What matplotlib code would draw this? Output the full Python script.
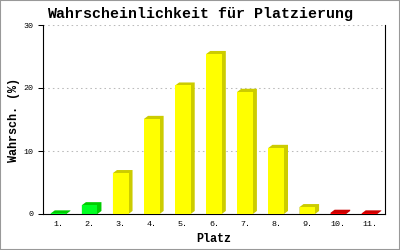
import matplotlib
matplotlib.use('Agg')
import matplotlib.pyplot as plt
from matplotlib.patches import Polygon, Rectangle

plaetze = ['1.', '2.', '3.', '4.', '5.', '6.', '7.', '8.', '9.', '10.', '11.']
wahrsch = [0.1, 1.4, 6.5, 15.1, 20.4, 25.4, 19.4, 10.5, 1.1, 0.2, 0.1]
farben_vorne = ['#00ff22', '#00ff22', '#ffff00', '#ffff00', '#ffff00', '#ffff00',
                '#ffff00', '#ffff00', '#ffff00', '#ff0000', '#ff0000']
farben_seite = ['#00cc00', '#00cc00', '#cccc00', '#cccc00', '#cccc00', '#cccc00',
                '#cccc00', '#cccc00', '#cccc00', '#cc0000', '#cc0000']
y_ticks = [0, 10, 20, 30]

fig = plt.figure(figsize=(4, 2.5), dpi=100)
ax = fig.add_axes([0.1075, 0.144, 0.855, 0.756])

breite = 0.5
tiefe_x = 0.13   # 3D-Versatz in Datenkoordinaten
tiefe_y = 0.48

for i, (w, fv, fs) in enumerate(zip(wahrsch, farben_vorne, farben_seite)):
    x = i + 1
    x0, x1 = x - breite / 2, x + breite / 2
    # Seite + Deckel als ein Sechseck, danach die Vorderseite drauf
    koerper = Polygon([(x0, 0), (x0, w), (x0 + tiefe_x, w + tiefe_y),
                       (x1 + tiefe_x, w + tiefe_y), (x1 + tiefe_x, tiefe_y), (x1, 0)],
                      closed=True, facecolor=fs, edgecolor='none', zorder=3)
    ax.add_patch(koerper)
    ax.add_patch(Rectangle((x0, 0), breite, w, facecolor=fv, edgecolor='none', zorder=4))

ax.set_xlim(0.5, 11.5)
ax.set_ylim(0, 30)
ax.set_xticks(range(1, 12))
ax.set_xticklabels(plaetze, family='Liberation Mono', fontsize=6)
ax.set_yticks(y_ticks)
ax.set_yticklabels([str(t) for t in y_ticks], family='Liberation Mono', fontsize=6)
ax.tick_params(axis='x', length=0, pad=5)
ax.tick_params(axis='y', length=3.6, width=0.75, pad=3)

ax.yaxis.grid(True, color='#bbbbbb', linestyle=(0, (1.5, 3)), linewidth=0.75)
ax.set_axisbelow(True)
ax.spines['top'].set_visible(False)
for s in ['left', 'right', 'bottom']:
    ax.spines[s].set_linewidth(0.8)
    ax.spines[s].set_color('black')

fig.text(0.5, 0.944, 'Wahrscheinlichkeit für Platzierung', ha='center', va='center',
         family='Liberation Mono', fontweight='bold', fontsize=10.8)
ax.set_xlabel('Platz', family='Liberation Mono', fontweight='bold', fontsize=8.5, labelpad=4)
ax.set_ylabel('Wahrsch. (%)', family='Liberation Mono', fontweight='bold', fontsize=8.5, labelpad=3)

fig.patches.append(Rectangle((0, 0), 1, 1, transform=fig.transFigure, fill=False,
                             edgecolor='#999999', linewidth=1.5))

fig.savefig('out.png', dpi=100)
